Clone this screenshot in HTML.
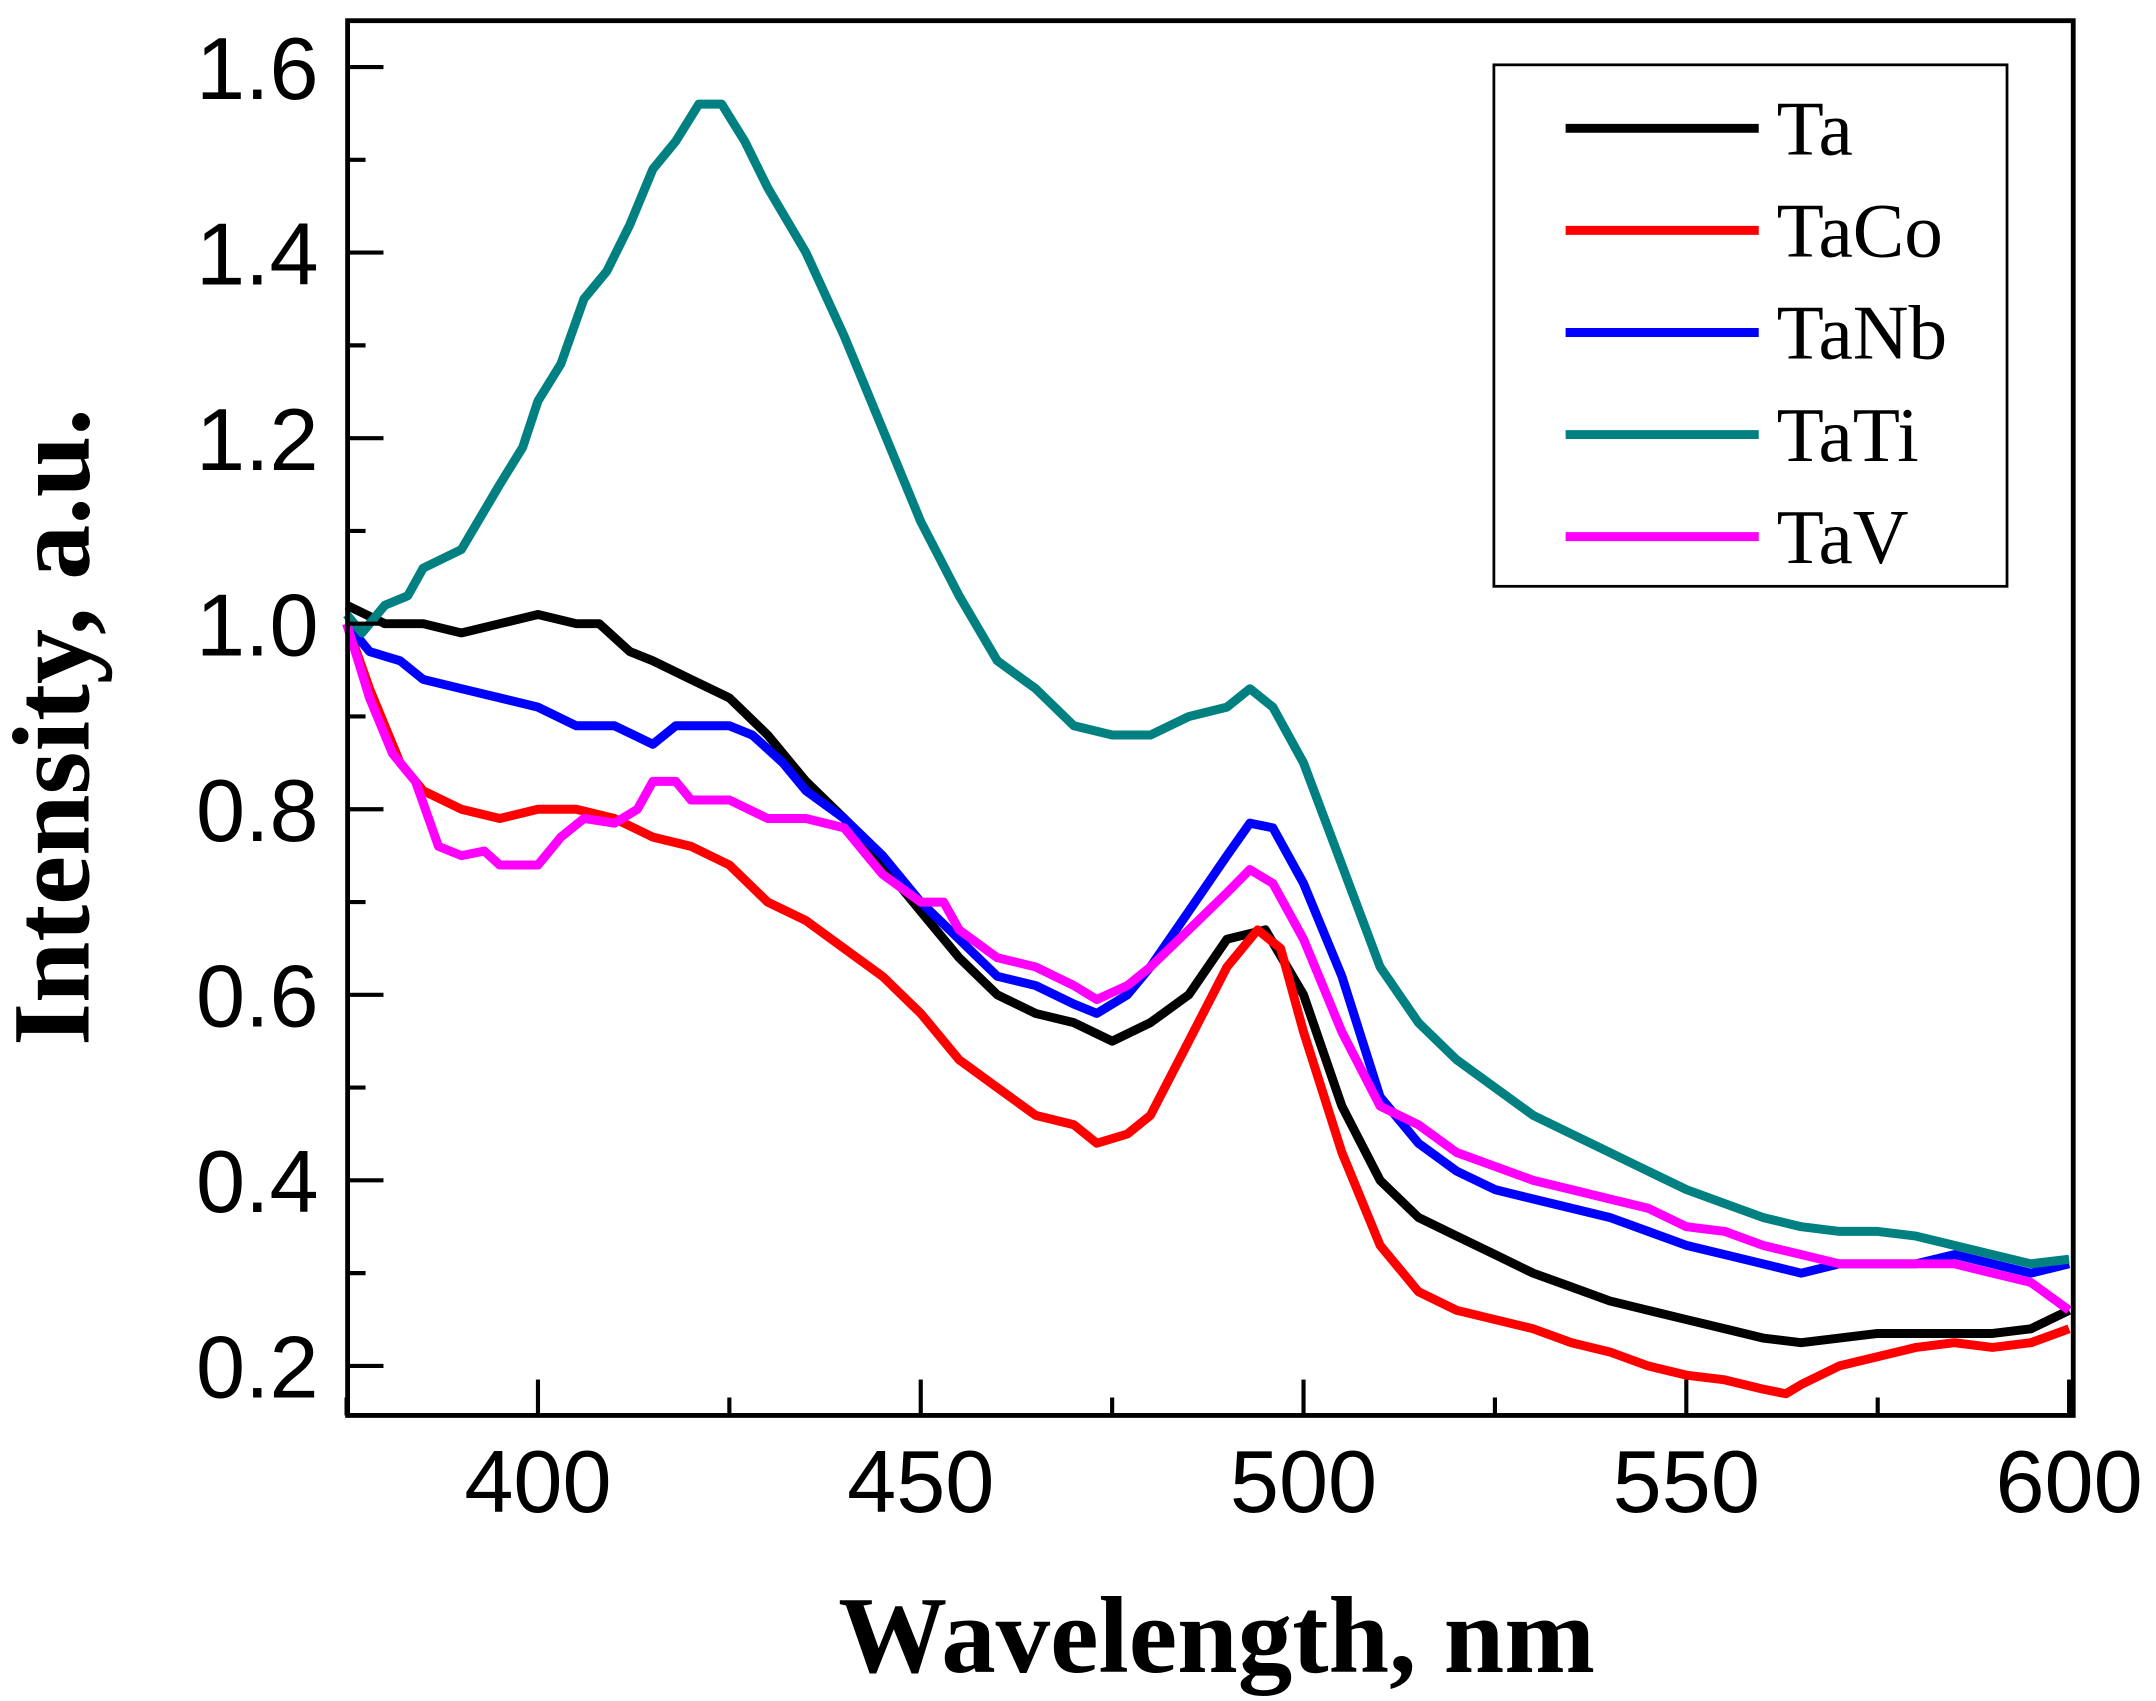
<!DOCTYPE html>
<html><head><meta charset="utf-8"><style>
html,body{margin:0;padding:0;background:#fff;}
svg{display:block;}
</style></head><body>
<svg id="chart" width="2156" height="1701" viewBox="0 0 1563 1233" preserveAspectRatio="none" xmlns="http://www.w3.org/2000/svg">
<rect x="0" y="0" width="1563" height="1233" fill="#fff"/>
<g id="series"></g>
<g id="axes"></g>
<rect x="252" y="15" width="1251" height="1011" fill="none" stroke="#000" stroke-width="3.5"/>
<text transform="translate(64,527) rotate(-90)" text-anchor="middle" font-family="Liberation Serif, serif" font-weight="bold" font-size="80">Intensity, a.u.</text>
<text x="882" y="1212" text-anchor="middle" font-family="Liberation Serif, serif" font-weight="bold" font-size="79">Wavelength, nm</text>
<g>
<rect x="1083" y="47" width="372" height="378" fill="#fff" stroke="#000" stroke-width="2"/>
<g id="legend-items"></g>
</g>
</svg>
<script>
const wlTa=[375,380,385,390,395,400,405,408,412,415,420,425,430,435,440,445,450,455,460,465,470,475,480,485,490,495,500,505,510,515,520,525,530,535,540,545,550,555,560,565,570,575,580,585,590,595,600];
const valTa=[1.02,1.0,1.0,0.99,1.0,1.01,1.0,1.0,0.97,0.96,0.94,0.92,0.88,0.83,0.79,0.74,0.69,0.64,0.6,0.58,0.57,0.55,0.57,0.6,0.66,0.67,0.6,0.48,0.4,0.36,0.34,0.32,0.3,0.285,0.27,0.26,0.25,0.24,0.23,0.225,0.23,0.235,0.235,0.235,0.235,0.24,0.26];
const wlTaCo=[375,378,382,385,390,395,400,405,410,415,420,425,430,435,440,445,450,455,460,465,470,473,477,480,485,490,494,497,500,505,510,515,520,525,530,535,540,545,550,555,560,563,565,570,575,580,585,590,595,600];
const valTaCo=[1.0,0.93,0.85,0.82,0.80,0.79,0.80,0.80,0.79,0.77,0.76,0.74,0.70,0.68,0.65,0.62,0.58,0.53,0.50,0.47,0.46,0.44,0.45,0.47,0.55,0.63,0.67,0.65,0.56,0.43,0.33,0.28,0.26,0.25,0.24,0.225,0.215,0.2,0.19,0.185,0.175,0.17,0.18,0.2,0.21,0.22,0.225,0.22,0.225,0.24];
const wlTaNb=[375,378,382,385,390,395,400,405,410,415,418,425,428,432,435,440,445,450,455,460,465,470,473,477,480,485,490,493,496,500,505,510,515,520,525,530,535,540,545,550,555,560,565,570,575,580,585,590,595,600];
const valTaNb=[1.0,0.97,0.96,0.94,0.93,0.92,0.91,0.89,0.89,0.87,0.89,0.89,0.88,0.85,0.82,0.79,0.75,0.70,0.66,0.62,0.61,0.59,0.58,0.60,0.63,0.69,0.75,0.785,0.78,0.72,0.62,0.49,0.44,0.41,0.39,0.38,0.37,0.36,0.345,0.33,0.32,0.31,0.3,0.31,0.31,0.31,0.32,0.31,0.3,0.31];
const wlTaTi=[375,377,380,383,385,390,395,398,400,403,406,409,412,415,418,421,424,427,430,435,440,445,450,455,460,465,470,475,480,485,490,493,496,500,505,510,515,520,525,530,535,540,545,550,555,560,565,570,575,580,585,590,595,600];
const valTaTi=[1.01,0.99,1.02,1.03,1.06,1.08,1.15,1.19,1.24,1.28,1.35,1.38,1.43,1.49,1.52,1.56,1.56,1.52,1.47,1.40,1.31,1.21,1.11,1.03,0.96,0.93,0.89,0.88,0.88,0.9,0.91,0.93,0.91,0.85,0.74,0.63,0.57,0.53,0.5,0.47,0.45,0.43,0.41,0.39,0.375,0.36,0.35,0.345,0.345,0.34,0.33,0.32,0.31,0.315];
const wlTaV=[375,378,381,384,387,390,393,395,400,403,406,410,413,415,418,420,425,430,435,440,443,445,450,453,455,460,465,470,473,477,480,485,490,493,496,500,505,510,515,520,525,530,535,540,545,550,555,560,565,570,575,580,585,590,595,600];
const valTaV=[1.0,0.92,0.86,0.83,0.76,0.75,0.755,0.74,0.74,0.77,0.79,0.785,0.80,0.83,0.83,0.81,0.81,0.79,0.79,0.78,0.75,0.73,0.70,0.70,0.67,0.64,0.63,0.61,0.595,0.61,0.63,0.67,0.71,0.735,0.72,0.66,0.56,0.48,0.46,0.43,0.415,0.40,0.39,0.38,0.37,0.35,0.345,0.33,0.32,0.31,0.31,0.31,0.31,0.3,0.29,0.26];
const seriesNames=["Ta","TaCo","TaNb","TaTi","TaV"];
const seriesColors=["#000000","#ff0000","#0000ff","#008080","#ff00ff"];
const xTicks=[400,450,500,550,600];
const yTicks=["0.2","0.4","0.6","0.8","1.0","1.2","1.4","1.6"];

const NS="http://www.w3.org/2000/svg";
function X(w){return 390+(w-400)*5.55;}
function Y(v){return 48.6+(1.6-v)*672.5;}
const sg=document.getElementById('series');
const allW=[wlTa,wlTaCo,wlTaNb,wlTaTi,wlTaV], allV=[valTa,valTaCo,valTaNb,valTaTi,valTaV];
for(let s=0;s<5;s++){
  const p=document.createElementNS(NS,'polyline');
  
  
  p.setAttribute('points',allW[s].map((w,i)=>X(w).toFixed(1)+','+Y(allV[s][i]).toFixed(1)).join(' '));
  p.setAttribute('fill','none');p.setAttribute('stroke',seriesColors[s]);
  p.setAttribute('stroke-width','6.5');p.setAttribute('stroke-linejoin','round');
  sg.appendChild(p);
  const lg=document.getElementById('legend-items');
  const l=document.createElementNS(NS,'line');
  
  
  const ly=93+s*74;
  l.setAttribute('x1',1135);l.setAttribute('x2',1275);l.setAttribute('y1',ly);l.setAttribute('y2',ly);
  l.setAttribute('stroke',seriesColors[s]);l.setAttribute('stroke-width','6.5');
  lg.appendChild(l);
  const t=document.createElementNS(NS,'text');
  
  
  t.setAttribute('x',1288);t.setAttribute('y',ly+19);
  t.setAttribute('font-family','Liberation Serif, serif');t.setAttribute('font-size','56');
  t.textContent=seriesNames[s];
  lg.appendChild(t);
}
const ag=document.getElementById('axes');
function ln(x1,y1,x2,y2,name){const l=document.createElementNS(NS,'line');
  
  
  l.setAttribute('x1',x1);l.setAttribute('y1',y1);l.setAttribute('x2',x2);l.setAttribute('y2',y2);
  l.setAttribute('stroke','#000');l.setAttribute('stroke-width','3');ag.appendChild(l);}
function tx(x,y,s,anchor,name){const t=document.createElementNS(NS,'text');
  
  
  t.setAttribute('x',x);t.setAttribute('y',y);t.setAttribute('text-anchor',anchor);
  t.setAttribute('font-family','Liberation Sans, sans-serif');t.setAttribute('font-size','64');
  t.textContent=s;ag.appendChild(t);}
xTicks.forEach(w=>{ln(X(w),1026,X(w),1000,'x-tick');tx(X(w),1096,String(w),'middle','x-tick-label');});
for(let w=375;w<600;w+=50){ln(X(w),1026,X(w),1013,'x-minor-tick');}
yTicks.forEach(v=>{const y=Y(parseFloat(v));ln(252,y,278,y,'y-tick');tx(231,y+23,v,'end','y-tick-label');});
for(let v=0.3;v<1.65;v+=0.2){ln(252,Y(v),265,Y(v),'y-minor-tick');}
</script>
</body></html>
